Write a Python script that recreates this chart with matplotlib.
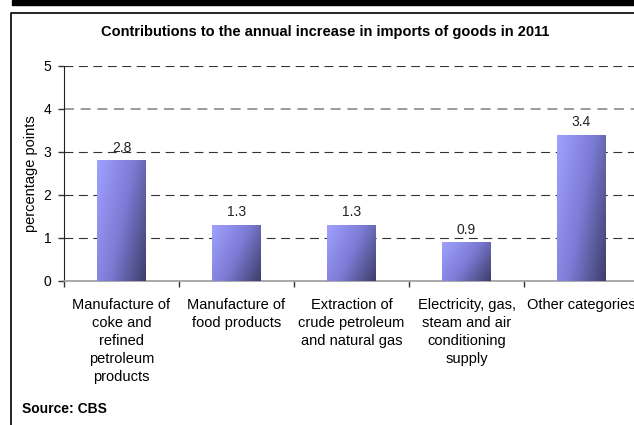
import matplotlib.pyplot as plt
import numpy as np
from matplotlib.colors import LinearSegmentedColormap
from matplotlib.lines import Line2D
from matplotlib.patches import Rectangle

plt.rcParams['font.family'] = ['Liberation Sans', 'DejaVu Sans']

# Contributions (percentage points) by category
categories = [
    'Manufacture of\ncoke and\nrefined\npetroleum\nproducts',
    'Manufacture of\nfood products',
    'Extraction of\ncrude petroleum\nand natural gas',
    'Electricity, gas,\nsteam and air\nconditioning\nsupply',
    'Other categories',
]
values = [2.8, 1.3, 1.3, 0.9, 3.4]
value_labels = ['2.8', '1.3', '1.3', '0.9', '3.4']
y_ticks = [0, 1, 2, 3, 4, 5]

W, H = 634, 425
fig = plt.figure(figsize=(W / 100, H / 100), dpi=100)
fig.patch.set_facecolor('white')

# black band at the top and the thin frame
fig.patches.append(Rectangle((12 / W, 1 - 5 / H), 1 - 12 / W, 5 / H,
                             transform=fig.transFigure, color='black', zorder=5))
fig.lines.append(Line2D([10.5 / W, 10.5 / W, 1], [0, 1 - 12.5 / H, 1 - 12.5 / H],
                        transform=fig.transFigure, color='black', lw=1.2))

ax = fig.add_axes([64 / W, 1 - 281 / H, 575 / W, 215.3 / H])

x = np.arange(len(categories))
bars = ax.bar(x, values, width=0.42, facecolor='none', edgecolor='none', zorder=3)

# diagonal light-to-dark fill inside every bar
cmap = LinearSegmentedColormap.from_list('bar', ['#a0a0ff', '#7c7cd6', '#3e3e6c'])
gx, gy = np.meshgrid(np.linspace(0, 1, 60), np.linspace(0, 1, 120))
grad = 0.65 * gx + 0.35 * gy
for b in bars:
    x0, w, h = b.get_x(), b.get_width(), b.get_height()
    im = ax.imshow(grad, extent=[x0, x0 + w, 0, h], origin='upper', aspect='auto',
                   cmap=cmap, vmin=0, vmax=1, zorder=3)
    im.set_clip_path(b)

for xi, v, lab in zip(x, values, value_labels):
    ax.annotate(lab, (xi, v), xytext=(0, 4), textcoords='offset points',
                ha='center', va='bottom', fontsize=10, color='#222222', zorder=4)

ax.set_xlim(-0.5, len(categories) - 0.5)
ax.set_ylim(0, 5)

# dashed gridlines
for yv in y_ticks[1:]:
    if yv == 4:
        ax.axhline(yv, color='#8a8a8a', lw=1.2, ls=(0, (6, 4)), zorder=1)
    else:
        ax.axhline(yv, color='#333333', lw=0.8, ls=(0, (8, 5)), zorder=1)

ax.set_yticks(y_ticks)
ax.set_yticklabels([str(t) for t in y_ticks], fontsize=10)
ax.set_xticks(x)
ax.set_xticklabels(categories, fontsize=10.5, linespacing=1.38, va='top')
ax.tick_params(axis='x', length=0, pad=12)
ax.set_xticks(np.arange(len(categories) + 1) - 0.5, minor=True)
ax.tick_params(axis='x', which='minor', length=4, color='#333333', width=1)
ax.tick_params(axis='y', length=4, color='#333333', width=1, pad=5)

for s in ['top', 'right']:
    ax.spines[s].set_visible(False)
ax.spines['left'].set_color('#222222')
ax.spines['bottom'].set_color('#999999')
ax.spines['bottom'].set_linewidth(1.2)

ax.set_ylabel('percentage points', fontsize=10.5, labelpad=4)

fig.text(325 / W, 1 - 32 / H, 'Contributions to the annual increase in imports of goods in 2011',
         ha='center', va='center', fontsize=10.5, fontweight='bold')
fig.text(22 / W, 1 - 409 / H, 'Source: CBS', ha='left', va='center',
         fontsize=10, fontweight='bold')

fig.savefig('out.png', dpi=100)
